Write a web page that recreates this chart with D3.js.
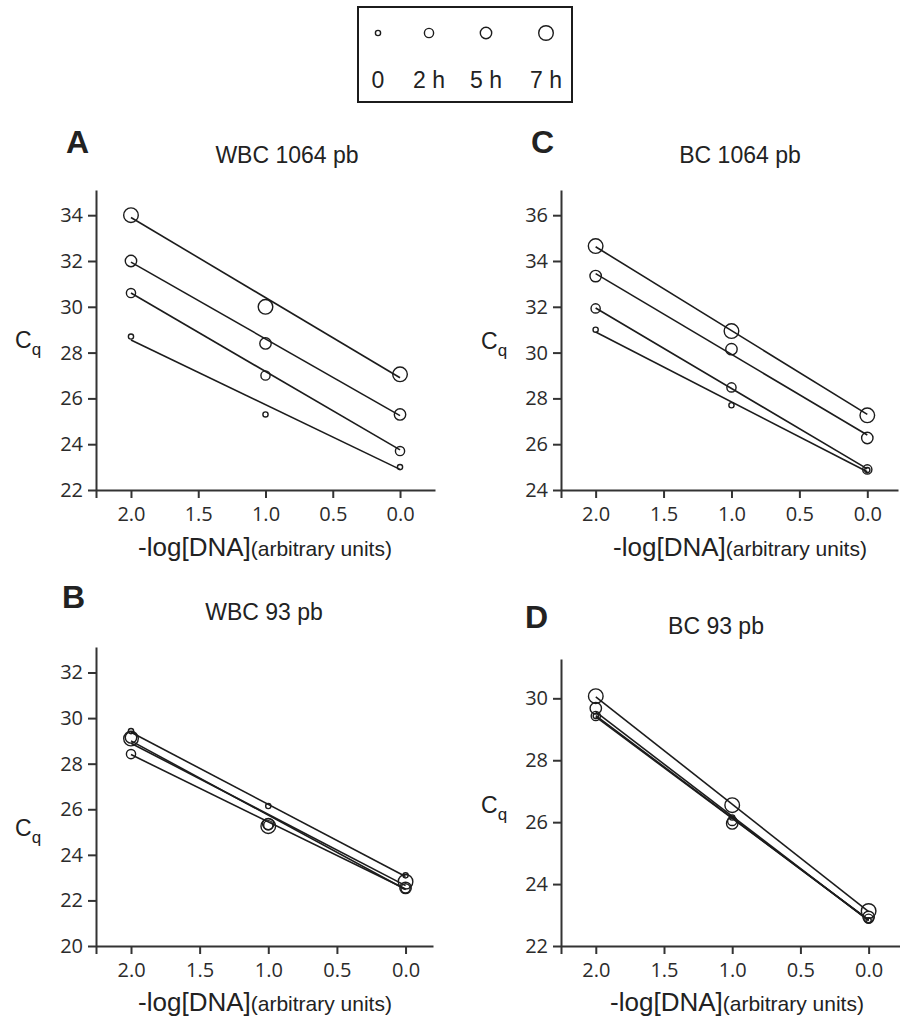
<!DOCTYPE html>
<html>
<head>
<meta charset="utf-8">
<script src="https://cdn.jsdelivr.net/npm/d3@7"></script>
<style>
  body { margin: 0; background: #fff; }
  svg { display: block; }
  .axis text { font-family: "Open Sans", sans-serif; font-size: 20px; fill: #2b2b2b; }
  .axis path, .axis line { stroke: #333; stroke-width: 2; }
  .lbl { font-family: "Liberation Sans", Arial, sans-serif; fill: #222; }
</style>
</head>
<body>
<script>
// DATA
const doses = [2, 1, 0];
const times = ["0", "2 h", "5 h", "7 h"];
const xTicks = [2.0, 1.5, 1.0, 0.5, 0.0];
const panelLetters = ["A", "B", "C", "D"];
const panelTitles = ["WBC 1064 pb", "WBC 93 pb", "BC 1064 pb", "BC 93 pb"];

// Cq per time point (rows: 0, 2 h, 5 h, 7 h), columns follow doses
const cqA = [[28.7, 25.3, 23.0], [30.6, 27.0, 23.7], [32.0, 28.4, 25.3], [34.0, 30.0, 27.05]];
const cqB = [[29.43, 26.14, 23.1], [28.42, 25.3, 22.53], [29.15, 25.35, 22.55], [29.1, 25.26, 22.82]];
const cqC = [[31.0, 27.7, 24.87], [31.93, 28.48, 24.9], [33.34, 30.15, 26.27], [34.65, 30.94, 27.26]];
const cqD = [[29.43, 26.15, 22.83], [29.43, 26.04, 22.88], [29.68, 25.96, 22.94], [30.07, 26.55, 23.13]];

// fitted line values at dose 2.0 and 0.0
const fitA = [[28.55, 22.9], [30.6, 23.75], [31.95, 25.25], [33.9, 26.9]];
const fitB = [[29.38, 23.05], [28.4, 22.5], [29.0, 22.48], [28.9, 22.65]];
const fitC = [[30.9, 24.8], [31.95, 24.92], [33.45, 26.4], [34.62, 27.3]];
const fitD = [[29.44, 22.84], [29.4, 22.84], [29.56, 22.82], [30.05, 23.11]];

const yTicksA = [22, 24, 26, 28, 30, 32, 34];
const yTicksB = [20, 22, 24, 26, 28, 30, 32];
const yTicksC = [24, 26, 28, 30, 32, 34, 36];
const yTicksD = [22, 24, 26, 28, 30];

const yDomainA = [22, 35.1];
const yDomainB = [20, 33.12];
const yDomainC = [24, 37.1];
const yDomainD = [22, 31.27];

const xDomainA = [2.26, -0.26];
const xDomainB = [2.255, -0.2];
const xDomainC = [2.255, -0.226];
const xDomainD = [2.255, -0.23];

// LAYOUT
const width = 900;
const height = 1020;
const radius = [2.6, 4.6, 5.7, 7.3];
const ink = "#1c1c1c";

const frames = [
  { left: 96, right: 435, top: 190, bottom: 490, letter: [66, 153], title: [287, 163], cq: [15, 348], label: [265, 556] },
  { left: 96, right: 433, top: 647, bottom: 946, letter: [62, 608], title: [264, 620], cq: [15, 836], label: [265, 1011] },
  { left: 561, right: 898, top: 190, bottom: 490, letter: [531, 153], title: [740, 163], cq: [481, 349], label: [740, 556] },
  { left: 561, right: 900, top: 659, bottom: 946, letter: [525, 628], title: [716, 634], cq: [481, 813], label: [737, 1011] }
];

const panelData = [
  { cq: cqA, fit: fitA, yTicks: yTicksA, yDomain: yDomainA, xDomain: xDomainA },
  { cq: cqB, fit: fitB, yTicks: yTicksB, yDomain: yDomainB, xDomain: xDomainB },
  { cq: cqC, fit: fitC, yTicks: yTicksC, yDomain: yDomainC, xDomain: xDomainC },
  { cq: cqD, fit: fitD, yTicks: yTicksD, yDomain: yDomainD, xDomain: xDomainD }
];

const svg = d3.select("body")
  .append("svg")
  .attr("width", width)
  .attr("height", height);

// LEGEND
const legendX = [378, 429, 486, 546];
const legend = svg.append("g");
legend.append("rect")
  .attr("x", 358).attr("y", 7)
  .attr("width", 214).attr("height", 95)
  .attr("fill", "none")
  .attr("stroke", ink)
  .attr("stroke-width", 2);
legend.selectAll("circle")
  .data(times)
  .join("circle")
  .attr("cx", (d, i) => legendX[i])
  .attr("cy", 33)
  .attr("r", (d, i) => radius[i])
  .attr("fill", "none")
  .attr("stroke", ink)
  .attr("stroke-width", 1.4);
legend.selectAll("text")
  .data(times)
  .join("text")
  .attr("class", "lbl")
  .attr("x", (d, i) => legendX[i])
  .attr("y", 88)
  .attr("text-anchor", "middle")
  .style("font-size", "23px")
  .text(d => d);

// PANELS
panelData.forEach((p, k) => {
  const f = frames[k];

  const x = d3.scaleLinear().domain(p.xDomain).range([f.left, f.right]);
  const y = d3.scaleLinear().domain(p.yDomain).range([f.bottom, f.top]);

  const g = svg.append("g");

  // x axis, with an unlabeled tick at the left end
  const xAxis = d3.axisBottom(x)
    .tickValues([p.xDomain[0]].concat(xTicks))
    .tickFormat(d => xTicks.includes(d) ? d3.format(".1f")(d) : "")
    .tickSize(8)
    .tickSizeOuter(0);
  const gx = g.append("g")
    .attr("class", "axis")
    .attr("transform", `translate(0,${f.bottom})`)
    .call(xAxis);
  gx.selectAll(".tick text").attr("y", 31).attr("dy", 0);

  const yAxis = d3.axisLeft(y)
    .tickValues(p.yTicks)
    .tickSize(8)
    .tickPadding(5)
    .tickSizeOuter(0);
  g.append("g")
    .attr("class", "axis")
    .attr("transform", `translate(${f.left},0)`)
    .call(yAxis);

  // fitted lines
  const line = d3.line().x(d => x(d[0])).y(d => y(d[1]));
  g.selectAll("path.fit")
    .data(p.fit)
    .join("path")
    .attr("class", "fit")
    .attr("d", d => line([[doses[0], d[0]], [doses[2], d[1]]]))
    .attr("fill", "none")
    .attr("stroke", ink)
    .attr("stroke-width", 1.6);

  // points
  p.cq.forEach((row, i) => {
    g.append("g")
      .selectAll("circle")
      .data(row)
      .join("circle")
      .attr("cx", (d, j) => x(doses[j]))
      .attr("cy", d => y(d))
      .attr("r", radius[i])
      .attr("fill", "none")
      .attr("stroke", ink)
      .attr("stroke-width", 1.4);
  });

  // letter, title, axis labels
  g.append("text")
    .attr("class", "lbl")
    .attr("x", f.letter[0]).attr("y", f.letter[1])
    .style("font-size", "32px")
    .style("font-weight", "bold")
    .text(panelLetters[k]);

  g.append("text")
    .attr("class", "lbl")
    .attr("x", f.title[0]).attr("y", f.title[1])
    .attr("text-anchor", "middle")
    .style("font-size", "23px")
    .text(panelTitles[k]);

  const cq = g.append("text")
    .attr("class", "lbl")
    .attr("x", f.cq[0]).attr("y", f.cq[1]);
  cq.append("tspan").style("font-size", "23px").text("C");
  cq.append("tspan").style("font-size", "17px").attr("dy", 7).text("q");

  const xl = g.append("text")
    .attr("class", "lbl")
    .attr("x", f.label[0]).attr("y", f.label[1])
    .attr("text-anchor", "middle");
  xl.append("tspan").style("font-size", "26px").text("-log[DNA]");
  xl.append("tspan").style("font-size", "21px").text("(arbitrary units)");
});
</script>
</body>
</html>
